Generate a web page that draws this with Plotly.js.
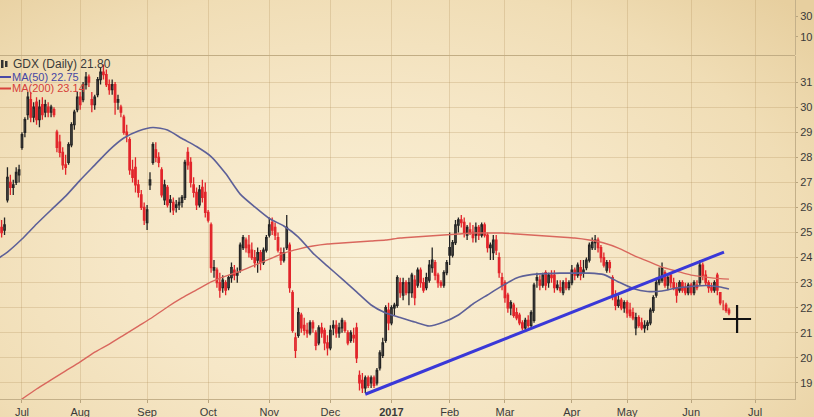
<!DOCTYPE html>
<html>
<head>
<meta charset="utf-8">
<script src="https://cdn.plot.ly/plotly-3.0.1.min.js"></script>
<style>
  html, body { margin: 0; padding: 0; }
  #chart {
    width: 814px; height: 417px;
    background: radial-gradient(ellipse 72% 85% at 45% 60%, #faf0d6 0%, #f6e7c7 42%, #f0ddb5 75%, #e7cf9f 100%);
  }
</style>
</head>
<body>
<div id="chart"></div>
<script>
// ---------- DATA ----------
const startDate = '2016-06-20';
const endDate = '2017-06-20';
const holidays = ['2016-07-04','2016-09-05','2016-11-24','2016-12-26','2017-01-02','2017-01-16','2017-02-20','2017-04-14','2017-05-29','2017-07-04'];

const open = [
  25.6,25.5,25.2,25.1,26.3,27.0,26.8,27.0,27.3,
  28.4,29.0,29.7,30.3,29.6,30.2,29.5,30.1,29.8,30.0,29.8,29.9,29.0,28.6,28.2,27.7,27.8,28.5,29.3,29.9,
  30.4,30.3,30.9,31.2,30.3,30.1,30.5,31.1,31.4,31.3,30.9,30.7,30.9,30.2,30.0,29.6,29.0,28.7,27.5,27.6,26.9,26.5,26.0,
  25.4,26.9,27.8,28.3,28.0,27.5,26.3,26.8,26.2,26.2,26.0,26.1,26.2,26.4,28.2,27.8,26.9,26.6,26.1,26.8,26.6,
  25.8,25.3,23.5,23.5,23.0,22.8,23.0,22.8,23.2,23.5,23.3,23.5,24.4,24.7,24.5,24.3,24.0,23.9,24.2,23.8,24.3,
  24.9,25.4,25.2,24.8,24.2,23.9,24.4,24.5,22.6,20.3,20.9,21.7,21.3,21.1,21.0,21.4,21.0,20.6,21.2,21.1,20.6,
  20.4,21.2,21.3,21.0,21.2,21.4,21.0,20.7,20.9,21.2,19.3,19.1,18.8,19.2,19.0,19.2,19.0,19.6,20.1,20.7,21.9,
  21.4,22.0,22.1,23.0,22.5,23.0,22.6,22.6,23.1,22.9,23.5,23.0,22.8,23.1,23.6,23.8,23.3,23.0,22.9,23.4,
  24.4,24.1,24.6,25.3,25.5,25.4,24.9,25.1,25.0,24.9,25.2,24.9,25.3,24.9,24.4,24.2,24.7,24.0,22.9,
  23.0,22.5,22.0,22.1,21.8,21.7,21.4,21.2,21.5,21.3,21.5,23.1,23.1,22.9,23.4,23.0,23.3,23.3,22.9,22.8,22.6,23.0,22.8,
  23.0,23.5,23.3,23.6,23.4,23.6,23.9,24.4,24.6,24.7,24.4,24.0,23.5,23.8,23.2,22.5,22.1,22.3,22.0,
  22.2,21.9,21.8,21.2,21.6,21.4,21.3,21.3,21.4,21.9,22.5,23.0,23.1,23.4,22.9,23.3,23.0,22.8,22.7,23.0,22.8,22.6,
  22.9,22.6,22.9,23.0,23.7,23.3,23.0,22.8,22.7,23.3,22.6,22.1,22.1,21.9
];
const high = [
  25.8,25.6,25.5,25.6,27.6,27.3,27.1,27.6,27.7,
  29.0,29.6,30.6,30.6,30.2,30.4,30.3,30.4,30.3,30.2,30.1,30.0,29.1,28.9,28.4,28.1,28.6,29.4,29.9,30.6,
  30.6,31.0,31.4,31.3,30.6,30.5,31.2,31.6,31.7,31.5,31.1,31.1,31.0,30.5,30.1,29.7,29.3,28.8,27.9,28.0,27.1,26.7,26.2,
  26.1,27.4,28.6,28.6,28.2,27.6,27.1,26.9,26.5,26.4,26.3,26.4,26.5,27.9,28.4,28.0,27.2,26.8,26.9,27.1,27.0,
  25.9,25.4,23.9,23.6,23.4,23.3,23.1,23.3,23.8,23.7,23.6,24.6,24.9,24.8,24.9,24.6,24.3,24.4,24.3,24.4,24.9,
  25.6,25.6,25.4,25.0,24.4,24.4,25.7,24.6,22.7,21.0,22.0,21.8,21.6,21.4,21.5,21.5,21.1,21.3,21.4,21.2,20.9,
  21.3,21.5,21.5,21.4,21.6,21.5,21.1,21.1,21.2,21.4,19.5,19.4,19.3,19.3,19.3,19.3,19.6,20.3,20.8,22.1,22.2,
  22.1,22.2,23.3,23.2,23.2,23.1,23.2,23.4,23.3,23.6,23.6,23.2,23.4,23.9,24.4,23.9,23.4,23.1,23.5,23.9,
  25.0,24.7,25.5,25.6,25.7,25.6,25.3,25.4,25.3,25.4,25.3,25.4,25.4,25.0,24.6,24.9,24.9,24.2,23.4,
  23.1,22.6,22.3,22.2,22.0,21.8,21.5,21.6,21.7,21.9,23.0,23.4,23.3,23.4,23.5,23.4,23.5,23.5,23.1,23.1,23.1,23.2,23.1,
  23.7,23.6,23.8,23.9,23.9,24.0,24.6,24.8,24.9,24.8,24.5,24.2,23.9,23.9,23.3,22.7,22.5,22.4,22.3,
  22.3,22.2,22.0,21.8,21.7,21.6,21.5,21.5,22.0,22.5,23.2,23.6,23.8,23.5,23.3,23.4,23.2,23.0,23.1,23.1,23.0,23.0,
  23.0,23.1,23.1,23.9,23.8,23.5,23.1,23.0,23.1,23.4,22.6,22.3,22.2,22.0
];
const low = [
  25.3,24.9,24.8,24.9,26.2,26.5,26.5,26.9,27.0,
  28.3,28.8,29.5,29.4,29.4,29.3,29.2,29.5,29.6,29.6,29.6,29.6,28.2,28.0,27.5,27.3,27.7,28.4,29.1,29.8,
  29.9,30.2,30.7,30.8,29.8,29.9,30.4,30.9,31.1,30.8,30.5,30.5,29.7,29.9,29.6,28.9,28.6,27.3,27.0,26.6,26.4,25.9,25.3,
  25.1,26.7,27.7,27.8,27.6,26.4,26.1,26.0,25.8,25.7,25.8,25.9,26.0,26.3,27.5,26.8,26.4,25.9,26.0,26.2,25.6,
  25.4,23.4,23.2,22.8,22.4,22.6,22.5,22.7,23.0,23.1,23.0,23.4,24.3,24.2,24.0,23.9,23.6,23.4,23.5,23.7,24.2,
  24.8,24.9,24.7,24.2,23.7,23.8,24.3,22.6,21.0,20.0,20.8,21.0,20.9,20.8,20.9,21.0,20.3,20.5,20.8,20.3,20.1,
  20.3,20.9,20.8,20.8,21.0,21.0,20.5,20.6,20.6,19.8,18.7,18.6,18.6,18.8,18.8,18.8,18.9,19.5,20.0,20.6,21.1,
  21.3,21.7,22.0,22.4,22.3,22.5,22.1,22.4,22.1,22.8,22.8,22.6,22.7,23.0,23.4,23.1,22.8,22.8,22.8,23.3,
  23.7,24.0,24.5,25.0,25.2,24.8,24.7,24.9,24.6,24.6,24.7,24.8,24.8,24.2,23.9,23.9,24.1,23.2,22.7,
  22.2,21.8,21.7,21.6,21.5,21.3,21.1,21.1,21.2,21.2,21.4,22.8,22.7,22.8,22.7,22.8,23.0,22.6,22.7,22.6,22.5,22.7,22.7,
  22.9,23.1,23.2,23.1,23.2,23.5,23.8,24.3,24.3,24.2,23.8,23.6,23.4,23.4,22.3,21.9,22.0,21.9,21.8,
  21.6,21.6,21.5,20.9,21.2,21.1,21.0,21.1,21.3,21.8,22.4,22.9,23.0,22.8,22.7,22.8,22.7,22.2,22.6,22.6,22.5,22.5,
  22.5,22.5,22.7,22.9,23.1,22.9,22.6,22.6,22.6,22.5,22.1,21.9,21.8,21.7
];
const close = [
  25.5,25.1,25.0,25.3,27.2,26.8,26.9,27.4,27.5,
  28.9,29.5,30.4,29.6,30.0,29.5,30.0,29.7,30.1,29.8,30.0,29.7,28.4,28.2,27.7,27.6,28.5,29.3,29.8,30.4,
  30.1,30.9,31.2,31.0,30.1,30.4,31.1,31.4,31.3,30.9,30.7,30.9,30.2,30.3,29.8,29.0,28.9,27.5,27.2,26.9,26.6,26.0,25.5,
  25.9,27.1,28.5,28.0,27.8,26.5,26.9,26.1,26.3,25.9,26.1,26.2,26.4,27.8,27.7,27.0,26.6,26.1,26.7,26.4,25.8,
  25.5,23.6,23.6,23.0,22.7,23.1,22.7,23.2,23.6,23.3,23.4,24.5,24.8,24.4,24.2,24.0,23.8,24.2,23.8,24.3,24.8,
  25.3,25.1,24.9,24.3,23.9,24.2,25.2,22.8,21.1,20.8,21.8,21.2,21.1,21.0,21.4,21.2,20.5,21.2,21.0,20.6,20.4,
  21.1,21.3,21.0,21.2,21.5,21.1,20.6,21.0,20.8,20.0,19.0,18.8,19.2,18.9,19.2,18.9,19.5,20.2,20.6,22.0,21.4,
  22.0,22.1,23.2,22.6,23.0,22.6,23.0,23.3,22.4,23.5,23.0,22.7,23.2,23.7,23.9,23.3,23.0,22.9,23.4,23.8,
  24.1,24.6,25.3,25.5,25.4,25.0,25.2,25.0,24.8,25.2,24.9,25.3,24.9,24.4,24.5,24.7,24.3,23.4,23.2,
  22.4,22.0,22.2,21.7,21.6,21.4,21.2,21.5,21.3,21.8,22.9,23.2,22.9,23.3,22.9,23.3,23.2,22.8,22.8,22.7,23.0,22.8,23.0,
  23.5,23.3,23.7,23.3,23.5,23.9,24.5,24.6,24.7,24.4,24.0,23.7,23.8,23.6,22.5,22.1,22.3,22.0,22.2,
  21.8,21.7,21.6,21.6,21.3,21.2,21.2,21.4,21.9,22.4,23.0,23.2,23.6,22.9,23.2,23.0,22.8,22.5,23.0,22.7,22.6,22.9,
  22.6,23.0,22.8,23.7,23.3,23.0,22.8,22.7,23.0,22.7,22.2,22.1,21.9,21.8
];

const maDates = ['2016-06-20','2016-06-24','2016-07-01','2016-07-11','2016-07-18','2016-07-25','2016-08-01','2016-08-08','2016-08-15','2016-08-22','2016-08-29','2016-09-06','2016-09-13','2016-09-20','2016-09-27','2016-10-04','2016-10-11','2016-10-18','2016-10-25','2016-11-01','2016-11-08','2016-11-15','2016-11-22','2016-11-30','2016-12-07','2016-12-14','2016-12-21','2016-12-29','2017-01-06','2017-01-13','2017-01-23','2017-01-30','2017-02-06','2017-02-13','2017-02-21','2017-02-28','2017-03-07','2017-03-14','2017-03-21','2017-03-28','2017-04-04','2017-04-11','2017-04-19','2017-04-26','2017-05-03','2017-05-10','2017-05-17','2017-05-24','2017-06-01','2017-06-08','2017-06-15','2017-06-20'];
const ma50 = [23.90,24.22,24.74,25.34,25.90,26.45,27.09,27.69,28.29,28.77,29.05,29.19,29.09,28.75,28.43,28.03,27.35,26.53,26.02,25.56,25.26,24.82,24.18,23.66,23.15,22.63,22.11,21.79,21.61,21.43,21.27,21.43,21.71,22.15,22.51,22.87,23.19,23.32,23.36,23.38,23.38,23.38,23.32,23.03,22.77,22.65,22.67,22.79,22.85,22.89,22.83,22.75];
const ma200 = [17.72,18.00,18.36,18.76,19.12,19.48,19.84,20.23,20.55,20.91,21.27,21.63,22.03,22.39,22.71,23.03,23.26,23.46,23.70,23.94,24.18,24.34,24.46,24.54,24.58,24.62,24.66,24.70,24.78,24.82,24.86,24.90,24.94,24.98,24.98,24.98,24.94,24.90,24.86,24.82,24.78,24.70,24.58,24.38,24.10,23.86,23.62,23.46,23.30,23.22,23.16,23.14];

const trendDates = ['2016-12-19 12:00','2017-06-16 19:00'];
const trendValues = [18.55, 24.22];

const crossDates = ['2017-06-23 07:00'];
const crossValues = [21.55];

const monthTicks = ['2016-07-01 12:00','2016-08-01 12:00','2016-09-01 12:00','2016-10-03 12:00','2016-11-01 12:00','2016-12-01 12:00','2017-01-03 12:00','2017-02-01 12:00','2017-03-01 12:00','2017-04-03 12:00','2017-05-01 12:00','2017-06-01 12:00','2017-07-03 12:00'];
const monthLabels = ['Jul','Aug','Sep','Oct','Nov','Dec','<b>2017</b>','Feb','Mar','Apr','May','Jun','Jul'];
const priceTicks = [19,20,21,22,23,24,25,26,27,28,29,30,31];
const topTicks = [10,30];

// ---------- BUILD ----------
function tradingDays(s, e, hol) {
  const out = [];
  const d = new Date(s + 'T12:00:00Z');
  const end = new Date(e + 'T12:00:00Z');
  while (d <= end) {
    const wd = d.getUTCDay();
    const iso = d.toISOString().slice(0, 10);
    if (wd !== 0 && wd !== 6 && hol.indexOf(iso) < 0) out.push(iso + ' 12:00');
    d.setUTCDate(d.getUTCDate() + 1);
  }
  return out;
}
const dates = tradingDays(startDate, endDate, holidays);

const up = {x: [], o: [], h: [], l: [], c: []};
const dn = {x: [], o: [], h: [], l: [], c: []};
for (let i = 0; i < dates.length; i++) {
  const prev = i > 0 ? close[i - 1] : open[i];
  const g = close[i] < prev ? dn : up;
  g.x.push(dates[i]); g.o.push(open[i]); g.h.push(high[i]); g.l.push(low[i]); g.c.push(close[i]);
}

const BLACK = '#242424', RED = '#e2252b';
const traces = [
  {type: 'candlestick', x: up.x, open: up.o, high: up.h, low: up.l, close: up.c,
   increasing: {line: {color: BLACK, width: 1.3}, fillcolor: 'rgba(185,180,170,0.6)'},
   decreasing: {line: {color: BLACK, width: 1.3}, fillcolor: BLACK},
   whiskerwidth: 0, showlegend: false, hoverinfo: 'skip'},
  {type: 'candlestick', x: dn.x, open: dn.o, high: dn.h, low: dn.l, close: dn.c,
   increasing: {line: {color: RED, width: 1.3}, fillcolor: 'rgba(235,150,140,0.6)'},
   decreasing: {line: {color: RED, width: 1.3}, fillcolor: RED},
   whiskerwidth: 0, showlegend: false, hoverinfo: 'skip'},
  {type: 'scatter', mode: 'lines', x: maDates.map(d => d + ' 12:00'), y: ma200,
   line: {color: '#d9675d', width: 1.4, shape: 'spline', smoothing: 0.6}, showlegend: false, hoverinfo: 'skip'},
  {type: 'scatter', mode: 'lines', x: maDates.map(d => d + ' 12:00'), y: ma50,
   line: {color: '#5d6098', width: 1.6, shape: 'spline', smoothing: 0.6}, showlegend: false, hoverinfo: 'skip'},
  {type: 'scatter', mode: 'lines', x: trendDates, y: trendValues,
   line: {color: '#3a38d8', width: 3}, showlegend: false, hoverinfo: 'skip'},
  {type: 'scatter', mode: 'markers', x: crossDates, y: crossValues,
   marker: {symbol: 'cross-thin', size: 20, color: '#111', line: {color: '#111', width: 2.2}},
   showlegend: false, hoverinfo: 'skip'},
  {type: 'scatter', mode: 'lines', x: [dates[0]], y: [null], yaxis: 'y2', showlegend: false, hoverinfo: 'skip'}
];

const W = 795, H = 399;
const px = v => v / W;
const py = v => 1 - v / H;
const font = 'Liberation Sans, Arial, sans-serif';
const GRID = 'rgba(175,140,85,0.26)';

const layout = {
  width: 814, height: 417,
  margin: {l: 0, r: 19, t: 0, b: 18},
  paper_bgcolor: 'rgba(0,0,0,0)',
  plot_bgcolor: 'rgba(0,0,0,0)',
  showlegend: false,
  font: {family: font, size: 11, color: '#3a3a3a'},
  xaxis: {
    type: 'date',
    range: ['2016-06-21 22:36', '2017-07-24 04:48'],
    rangebreaks: [{bounds: ['sat', 'mon']}, {values: holidays}],
    rangeslider: {visible: false},
    tickvals: monthTicks, ticktext: monthLabels,
    showgrid: true, gridcolor: GRID, gridwidth: 1,
    ticks: 'outside', ticklen: 3, tickcolor: '#b9a57e',
    showline: true, linecolor: '#c4b089', linewidth: 1,
    tickfont: {family: font, size: 11, color: '#3a3a3a'},
    zeroline: false, fixedrange: true
  },
  yaxis: {
    domain: [0, 0.8596],
    range: [18.36, 32.04],
    side: 'right',
    tickvals: priceTicks,
    showgrid: true, gridcolor: GRID, gridwidth: 1,
    ticks: 'outside', ticklen: 2, tickcolor: '#b9a57e',
    showline: true, linecolor: '#c4b089', linewidth: 1, mirror: false,
    tickfont: {family: font, size: 11, color: '#3a3a3a'},
    zeroline: false, fixedrange: true
  },
  yaxis2: {
    domain: [0.8622, 1],
    anchor: 'x',
    range: [-7.14, 45.24],
    side: 'right',
    tickvals: topTicks,
    showgrid: false,
    ticks: 'outside', ticklen: 2, tickcolor: '#b9a57e',
    showline: true, linecolor: '#c4b089', linewidth: 1,
    tickfont: {family: font, size: 11, color: '#3a3a3a'},
    zeroline: false, fixedrange: true
  },
  shapes: [
    {type: 'line', xref: 'paper', yref: 'paper', x0: 0, x1: 1, y0: py(55.5), y1: py(55.5),
     line: {color: '#c2ad84', width: 1.2}},
    {type: 'rect', xref: 'paper', yref: 'paper', x0: px(1), x1: px(3.5), y0: py(68), y1: py(60),
     fillcolor: '#333', line: {width: 0}},
    {type: 'rect', xref: 'paper', yref: 'paper', x0: px(5), x1: px(7.5), y0: py(67), y1: py(61),
     fillcolor: '#333', line: {width: 0}},
    {type: 'line', xref: 'paper', yref: 'paper', x0: px(0), x1: px(11), y0: py(77), y1: py(77),
     line: {color: '#4a4aa6', width: 2}},
    {type: 'line', xref: 'paper', yref: 'paper', x0: px(0), x1: px(11), y0: py(88.5), y1: py(88.5),
     line: {color: '#d8433d', width: 2}}
  ],
  annotations: [
    {xref: 'paper', yref: 'paper', x: px(11), y: py(64.5), xanchor: 'left', yanchor: 'middle',
     text: 'GDX (Daily) 21.80', showarrow: false, font: {family: font, size: 12, color: '#3a3a3a'}},
    {xref: 'paper', yref: 'paper', x: px(10), y: py(77), xanchor: 'left', yanchor: 'middle',
     text: 'MA(50) 22.75', showarrow: false, font: {family: font, size: 11, color: '#4646a4'}},
    {xref: 'paper', yref: 'paper', x: px(10), y: py(88.5), xanchor: 'left', yanchor: 'middle',
     text: 'MA(200) 23.14', showarrow: false, font: {family: font, size: 11, color: '#d6403a'}}
  ]
};

Plotly.newPlot('chart', traces, layout, {staticPlot: true, displayModeBar: false});
</script>
</body>
</html>
